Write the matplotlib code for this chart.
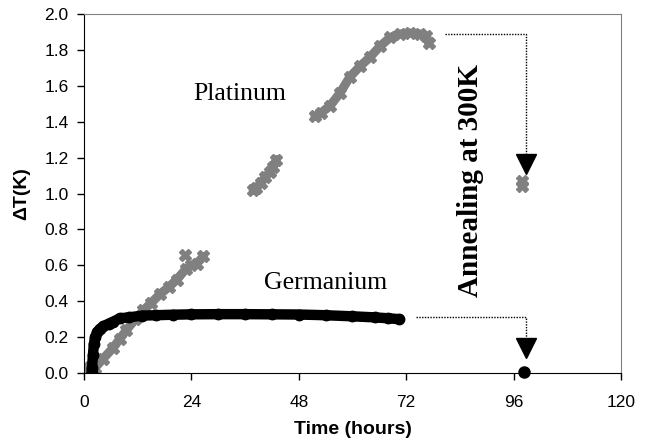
import numpy as np
import matplotlib
matplotlib.use("Agg")
import matplotlib.pyplot as plt

plt.rcParams['font.family'] = ['Liberation Sans', 'DejaVu Sans']

# Germanium (black)
ge_time = [1.7, 1.8, 2.0, 2.2, 2.5, 3.0, 3.5, 4.3, 5.5, 6.5, 8.0, 10, 13, 16, 20,
           24, 30, 36, 42, 48, 54, 60, 65, 68, 70.5]
ge_dT = [0.0, 0.03, 0.10, 0.16, 0.20, 0.23, 0.245, 0.26, 0.275, 0.286, 0.305, 0.31,
         0.32, 0.322, 0.325, 0.327, 0.328, 0.328, 0.327, 0.326, 0.322, 0.316, 0.31,
         0.305, 0.30]
ge_after_time = [98.3]
ge_after_dT = [0.005]

# Platinum (grey), three runs of data
pt_time1 = [0.5, 1.3, 2.5, 4.3, 6.5, 8.0, 9.5, 11.5, 13.3, 15, 17, 19, 20.7, 22.8,
            24, 25.2, 26.7]
pt_dT1 = [0.02, 0.035, 0.03, 0.08, 0.14, 0.19, 0.24, 0.30, 0.35, 0.39, 0.44, 0.48,
          0.52, 0.58, 0.60, 0.61, 0.65]
pt_spike_time = [22.6]
pt_spike_dT = [0.66]
pt_time2 = [37.8, 38.5, 39.5, 40.5, 41.5, 42.3, 43.0]
pt_dT2 = [1.02, 1.03, 1.06, 1.09, 1.12, 1.15, 1.19]
pt_time3 = [51.6, 53, 55, 57.2, 59.4, 61.7, 63.9, 66.1, 68.4, 70.6, 72.8, 75.1,
            76.5, 77.0]
pt_dT3 = [1.43, 1.45, 1.49, 1.56, 1.65, 1.71, 1.76, 1.82, 1.87, 1.89, 1.895, 1.89,
          1.88, 1.84]
pt_after_time = [97.8, 97.9]
pt_after_dT = [1.07, 1.04]

xticks = [0, 24, 48, 72, 96, 120]
yticks = np.arange(0, 2.01, 0.2)

fig = plt.figure(figsize=(6.47, 4.43), dpi=100)
ax = fig.add_axes([0.1298, 0.158, 0.830, 0.810])

grey = '#808080'
for t, v in [(pt_time1, pt_dT1), (pt_time2, pt_dT2), (pt_time3, pt_dT3)]:
    ax.plot(t, v, color=grey, lw=6.5, solid_capstyle='round', marker='X',
            ms=9, mec=grey, mfc=grey, zorder=2)
ax.plot(pt_spike_time, pt_spike_dT, ls='none', marker='X', ms=9, color=grey, zorder=2)
ax.plot(pt_after_time, pt_after_dT, ls='none', marker='X', ms=9, color=grey, zorder=2)

ax.plot(ge_time, ge_dT, color='black', lw=7.5, solid_capstyle='round',
        marker='o', ms=7.5, zorder=3)
ax.plot(ge_after_time, ge_after_dT, ls='none', marker='o', ms=8, color='black',
        clip_on=False, zorder=3)

# dotted annealing arrows
ax.plot([80.6, 98.7, 98.7], [1.89, 1.89, 1.21], color='black', ls=(0, (1, 1)), lw=1)
ax.plot([98.7], [1.163], marker='v', ms=14, color='black', ls='none')
ax.plot([74.3, 98.7, 98.7], [0.313, 0.313, 0.19], color='black', ls=(0, (1, 1)), lw=1)
ax.plot([98.7], [0.137], marker='v', ms=14, color='black', ls='none')

serif = ['Liberation Serif', 'DejaVu Serif']
ax.text(34.9, 1.521, 'Platinum', family=serif, fontsize=18.5, ha='center', va='baseline')
ax.text(53.9, 0.468, 'Germanium', family=serif, fontsize=18.5, ha='center', va='baseline')
ax.text(86.3, 1.075, 'Annealing at 300K', family=serif, fontsize=21, fontweight='bold',
        rotation=90, ha='center', va='center')

ax.set_xlim(0, 120)
ax.set_ylim(0, 2.0)
ax.set_xticks(xticks)
ax.set_yticks(yticks)
ax.set_yticklabels([f'{v:.1f}' for v in yticks])
ax.tick_params(direction='out', length=5, width=1, labelsize=12.5)
ax.tick_params(axis='x', pad=11)
ax.tick_params(axis='y', pad=6)

ax.set_xlabel('Time (hours)', fontsize=14, fontweight='bold', labelpad=8)
ax.set_ylabel('ΔT(K)', fontsize=14, fontweight='bold', labelpad=10)

for s in ['top', 'right']:
    ax.spines[s].set_color(grey)
for s in ['left', 'bottom']:
    ax.spines[s].set_color('black')

fig.savefig('out.png', dpi=100)
